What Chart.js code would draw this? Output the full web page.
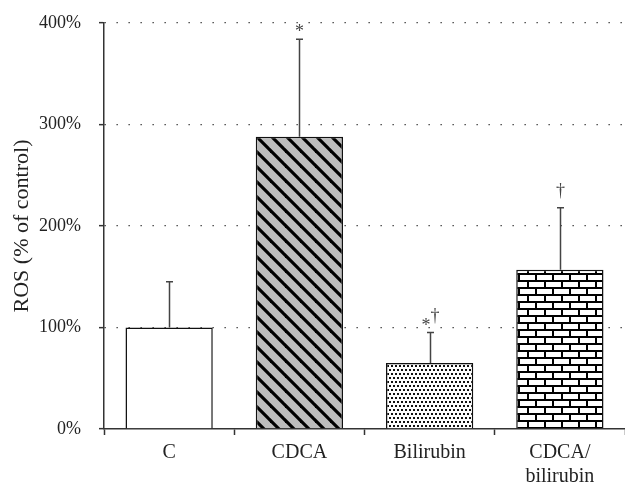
<!DOCTYPE html>
<html>
<head>
<meta charset="utf-8">
<script src="https://cdn.jsdelivr.net/npm/chart.js@4/dist/chart.umd.min.js"></script>
<style>
  html, body { margin: 0; padding: 0; background: #fff; }
  #wrap { width: 625px; height: 483px; }
</style>
</head>
<body>
<div id="wrap"><canvas id="rosChart" width="625" height="483"></canvas></div>
<script>
const categories = ['C', 'CDCA', 'Bilirubin', ['CDCA/', 'bilirubin']];
const rosMean = [100, 288, 65, 157];
const rosError = [45, 96, 30, 61];
const marks = ['', '*', '*†', '†'];
const yTicks = [0, 100, 200, 300, 400];

const serif = "'Liberation Serif','Times New Roman',serif";
const ink = '#222';

function makePattern(w, h, draw) {
  const c = document.createElement('canvas');
  c.width = w; c.height = h;
  const g = c.getContext('2d');
  draw(g);
  return g.createPattern(c, 'repeat');
}

// diagonal stripes on grey
const stripes = makePattern(15, 15, g => {
  g.fillStyle = '#bdbdbd';
  g.fillRect(0, 0, 15, 15);
  g.strokeStyle = '#000';
  g.lineWidth = 3.2;
  [[-3, -3, 18, 18], [12, -3, 18, 3], [-3, 12, 3, 18]].forEach(s => {
    g.beginPath(); g.moveTo(s[0], s[1]); g.lineTo(s[2], s[3]); g.stroke();
  });
});

// staggered dots
const dots = makePattern(4, 8, g => {
  g.fillStyle = '#fff';
  g.fillRect(0, 0, 4, 8);
  g.fillStyle = '#111';
  g.fillRect(1, 1, 2, 2);
  g.fillRect(3, 5, 1, 2);
  g.fillRect(0, 5, 1, 2);
});

// bricks
const bricks = makePattern(17, 14, g => {
  g.fillStyle = '#fff';
  g.fillRect(0, 0, 17, 14);
  g.fillStyle = '#000';
  g.fillRect(0, 0, 17, 2);
  g.fillRect(0, 7, 17, 2);
  g.fillRect(0, 0, 2, 7);
  g.fillRect(8, 7, 2, 7);
});

const fills = ['#ffffff', stripes, dots, bricks];

const errorBars = {
  id: 'errorBars',
  afterDatasetsDraw(chart) {
    const { ctx, scales: { x, y } } = chart;
    ctx.save();
    ctx.strokeStyle = '#444';
    ctx.lineWidth = 1.5;
    rosMean.forEach((m, i) => {
      const px = Math.round(x.getPixelForValue(i)) + 0.5;
      const top = y.getPixelForValue(m + rosError[i]);
      ctx.beginPath();
      ctx.moveTo(px, y.getPixelForValue(m));
      ctx.lineTo(px, top);
      ctx.moveTo(px - 3.5, top);
      ctx.lineTo(px + 3.5, top);
      ctx.stroke();

      // significance marks; dagger sits higher like a superscript
      const txt = marks[i];
      if (!txt) return;
      ctx.font = '18px ' + serif;
      ctx.fillStyle = '#444';
      ctx.textBaseline = 'alphabetic';
      ctx.textAlign = 'left';
      const widths = [...txt].map(ch => ctx.measureText(ch).width);
      let cx = px - widths.reduce((a, b) => a + b, 0) / 2;
      [...txt].forEach((ch, k) => {
        const base = ch === '†' ? top - 12 : top - 2;
        ctx.fillText(ch, cx, base);
        cx += widths[k];
      });
    });
    ctx.restore();
  }
};

function buildRosChart() {
  const ctx = document.getElementById('rosChart');
  new Chart(ctx, {
    type: 'bar',
    data: {
      labels: categories,
      datasets: [{
        data: rosMean,
        backgroundColor: fills,
        borderColor: '#111',
        borderWidth: 1.5,
        barPercentage: 0.67,
        categoryPercentage: 1
      }]
    },
    options: {
      responsive: false,
      animation: false,
      events: [],
      layout: { padding: { top: 23, right: 0, left: 0, bottom: 0 } },
      plugins: { legend: { display: false }, tooltip: { enabled: false } },
      scales: {
        x: {
          offset: true,
          grid: { offset: true, drawOnChartArea: false, drawTicks: true, tickLength: 6, tickColor: '#333', tickWidth: 1.5 },
          border: { color: '#333', width: 1.5 },
          ticks: { color: ink, font: { family: serif, size: 20 }, padding: 6, maxRotation: 0, autoSkip: false },
          afterFit: s => { s.height = 54; s.paddingLeft = 0; s.paddingRight = 0; }
        },
        y: {
          min: 0,
          max: 400,
          afterBuildTicks: s => { s.ticks = yTicks.map(v => ({ value: v })); },
          grid: {
            color: c => (c.tick && c.tick.value === 0 ? 'rgba(0,0,0,0)' : '#333'),
            lineWidth: 1.3,
            tickLength: 5,
            tickColor: '#333',
            tickWidth: 1.5
          },
          border: { color: '#333', width: 1.5, dash: [1.3, 10.7] },
          ticks: { color: ink, font: { family: serif, size: 18 }, padding: 18, callback: v => v + '%' },
          title: { display: true, text: 'ROS (% of control)', color: ink, font: { family: serif, size: 22 }, padding: { top: 9, bottom: 0 } },
          afterFit: s => { s.width = 104; s.paddingTop = 0; s.paddingBottom = 0; }
        }
      }
    },
    plugins: [errorBars]
  });
}

buildRosChart();
</script>
</body>
</html>
